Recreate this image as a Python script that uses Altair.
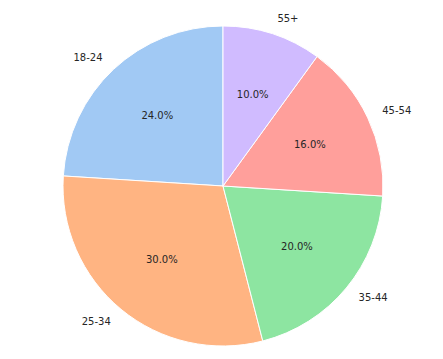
import math
import altair as alt
import pandas as pd

ages = ["18-24", "25-34", "35-44", "45-54", "55+"]
shares = [24, 30, 20, 16, 10]
colors = ["#a1c9f4", "#ffb482", "#8de5a1", "#ff9f9b", "#d0bbff"]
# clockwise drawing order in Vega (from 12 o'clock)
draw_order = [4, 3, 2, 1, 0]

df = pd.DataFrame({"age": ages, "share": shares, "ord": draw_order})

CX, CY, R = 223, 186, 160
theta_scale = alt.Scale(domain=[0, 100], range=[0, 2 * math.pi])

base = (
    alt.Chart(df)
    .transform_window(cum="sum(share)", sort=[alt.SortField("ord")], frame=[None, 0])
    .transform_calculate(
        start="datum.cum - datum.share",
        mid="datum.cum - datum.share / 2",
        label="format(datum.share, '.1f') + '%'",
    )
)

arcs = base.mark_arc(radius=R, stroke="white", strokeWidth=1).encode(
    theta=alt.Theta("start:Q", scale=theta_scale),
    theta2="cum:Q",
    color=alt.Color("age:N", scale=alt.Scale(domain=ages, range=colors), legend=None),
    x=alt.value(CX),
    y=alt.value(CY),
)

txt = dict(fontSize=10, font="DejaVu Sans", color="#262626", baseline="middle")

pct = base.mark_text(radius=R * 0.6, align="center", **txt).encode(
    theta=alt.Theta("mid:Q", scale=theta_scale),
    text="label:N",
    x=alt.value(CX),
    y=alt.value(CY),
)

left = base.transform_filter("datum.mid > 50").mark_text(
    radius=R * 1.1, align="right", **txt
).encode(
    theta=alt.Theta("mid:Q", scale=theta_scale),
    text="age:N",
    x=alt.value(CX),
    y=alt.value(CY),
)

right = base.transform_filter("datum.mid <= 50").mark_text(
    radius=R * 1.1, align="left", **txt
).encode(
    theta=alt.Theta("mid:Q", scale=theta_scale),
    text="age:N",
    x=alt.value(CX),
    y=alt.value(CY),
)

chart = (
    alt.layer(arcs, pct, left, right)
    .properties(width=443, height=359, autosize=alt.AutoSizeParams(type="none"), padding=0)
    .configure_view(stroke=None)
)

chart.save("out.html", embed_options={"renderer": "svg", "actions": False})
